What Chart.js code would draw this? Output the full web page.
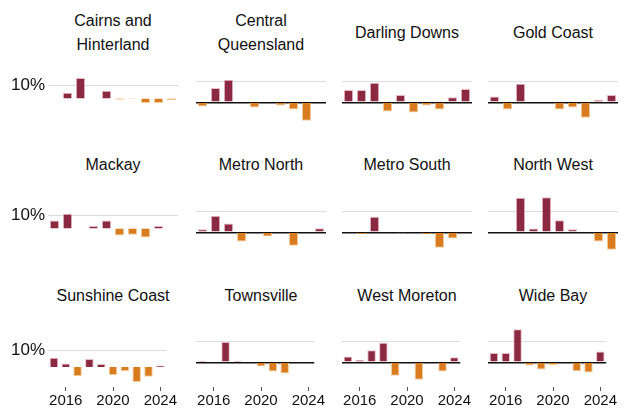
<!DOCTYPE html>
<html><head><meta charset="utf-8">
<script src="https://cdn.jsdelivr.net/npm/chart.js@4"></script>
<style>
body{margin:0;width:628px;height:411px;background:#fff;font-family:"Liberation Sans",Arial,sans-serif;position:relative;overflow:hidden}
.t{position:absolute;width:150px;height:50px;display:flex;align-items:center;justify-content:center;text-align:center;font-size:16px;line-height:24px;color:#111}
canvas{position:absolute}
</style></head><body>
<script>
const years = [2015,2016,2017,2018,2019,2020,2021,2022,2023,2024];
const yTicks = [-10,0,10,20];
const xTickLabels = [2016,2020,2024];
const regions = ["Cairns and<br>Hinterland","Central<br>Queensland","Darling Downs","Gold Coast","Mackay","Metro North","Metro South","North West","Sunshine Coast","Townsville","West Moreton","Wide Bay"];
const cairns = [null,4.5,16,null,6,-1,-0.5,-3.5,-3.5,-1.5];
const central = [-2,7,11,-0.3,-2.5,null,-1.5,-3.5,-9,null];
const darling = [6,6,9.5,-4.5,3.5,-5,-1.5,-3.5,2.5,6.5];
const goldCoast = [2.8,-3.5,9,null,null,-3.5,-2.5,-7.5,1.2,3.5];
const mackay = [6.2,11.5,null,1.8,6.2,-5.5,-5,-7,1.8,null];
const metroNorth = [1.5,8,4.3,-4.5,null,-2,null,-6.5,null,2];
const metroSouth = [null,-1,7.5,null,-0.2,null,-1,-7.5,-3,null];
const northWest = [null,null,16.8,1.8,17,5.8,1.5,null,-4.5,-8.5];
const sunshine = [5.5,2,-5.5,4.7,1.8,-4.8,-2.5,-9,-5.8,0.8];
const townsville = [0.8,null,9.8,0.8,null,-2,-4.5,-5.5,null,null];
const westMoreton = [2.8,1.2,5.8,9.5,-6.5,null,-8.5,null,-4.5,2.5];
const wideBay = [4.5,4.5,16,-1.5,-3.5,-1.3,-0.5,-4.3,-5,5.3];
const series = [cairns,central,darling,goldCoast,mackay,metroNorth,metroSouth,northWest,sunshine,townsville,westMoreton,wideBay];

const colLeft=[48,196,342,488], colW=130, rowZero=[102,232,362], titleMid=[33,165,296];
const pxPer=2.06;
series.forEach((vals,i)=>{
  const r=Math.floor(i/4), c=i%4, bottom=r===2;
  const t=document.createElement('div'); t.className='t'; t.innerHTML=regions[i];
  t.style.left=(colLeft[c]+colW/2-75)+'px'; t.style.top=(titleMid[r]-25)+'px';
  document.body.appendChild(t);
  const cv=document.createElement('canvas');
  const axW = c===0?48:0;
  const plotH=Math.round(34*pxPer);
  const left=colLeft[c]-axW, w=colW+axW, top=Math.round(rowZero[r]-22*pxPer), h=plotH+(bottom?24:0);
  cv.style.left=left+'px'; cv.style.top=top+'px'; cv.style.width=w+'px'; cv.style.height=h+'px';
  cv.width=w; cv.height=h;
  document.body.appendChild(cv);
  new Chart(cv,{type:'bar',
    data:{labels:years,datasets:[{data:vals,
      backgroundColor:vals.map(v=>v>=0?'#8c2942':'#d97b1f'),
      borderColor:vals.map(v=>v>=0?'#e9b9c4':'#f3cf9f'),
      borderWidth:1,barPercentage:0.72,categoryPercentage:1}]},
    options:{responsive:false,animation:false,devicePixelRatio:1,
      layout:{padding:0},
      plugins:{legend:{display:false},tooltip:{enabled:false}},
      scales:{
        x:{display:bottom,offset:true,border:{display:false},
          grid:{offset:false,drawOnChartArea:false,drawTicks:true,tickLength:4,
            color:ctx=>xTickLabels.includes(years[ctx.index])?'#555':'rgba(0,0,0,0)'},
          ticks:{autoSkip:false,maxRotation:0,padding:1,color:'#111',font:{size:15},
            callback:function(v,idx){return xTickLabels.includes(years[idx])?String(years[idx]):'';}}},
        y:{min:-12,max:22,border:{display:false},
          afterFit:a=>{a.width=axW;},
          grid:{drawTicks:false,
            color:ctx=>{const v=ctx.tick?ctx.tick.value:null; if(v===0) return '#111'; return yTicks.includes(v)?'#dddddd':'rgba(0,0,0,0)';},
            lineWidth:ctx=>ctx.tick&&ctx.tick.value===0?1.5:1},
          ticks:{display:c===0,stepSize:10,padding:3,color:'#111',font:{size:17},
            callback:v=>yTicks.includes(v)?v+'%':''}}
      }}});
});
</script></body></html>
